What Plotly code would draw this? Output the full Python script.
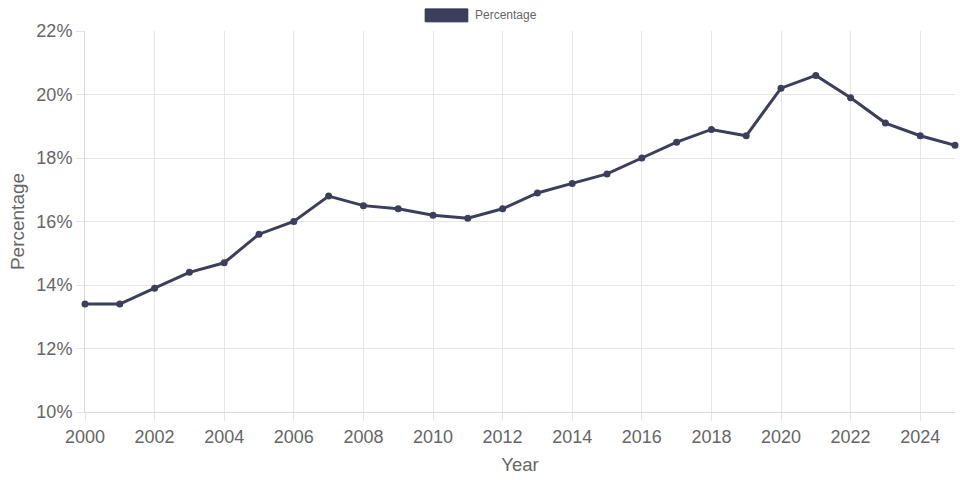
import plotly.graph_objects as go

years = list(range(2000, 2026))
percentage = [
    13.4, 13.4, 13.9, 14.4, 14.7, 15.6, 16.0, 16.8, 16.5, 16.4,
    16.2, 16.1, 16.4, 16.9, 17.2, 17.5, 18.0, 18.5, 18.9, 18.7,
    20.2, 20.6, 19.9, 19.1, 18.7, 18.4,
]
series_name = "Percentage"

LINE = "#3b3f5c"
GRID = "#e5e5e5"
TEXT = "#666666"
FONT = "Liberation Sans, Arial, sans-serif"

fig = go.Figure()
fig.add_trace(go.Scatter(
    x=years,
    y=percentage,
    mode="lines+markers",
    name=series_name,
    line=dict(color=LINE, width=3),
    marker=dict(size=7, color=LINE),
    cliponaxis=False,
    showlegend=False,
    hovertemplate="%{x}: %{y}%<extra></extra>",
))

# chart.js style legend box at the top
fig.add_shape(type="rect", xref="paper", yref="paper",
              x0=0.391, x1=0.440, y0=1.024, y1=1.058,
              fillcolor=LINE, line=dict(color="#2e3250", width=1))
fig.add_annotation(text=series_name, xref="paper", yref="paper",
                   x=0.446, y=1.041, xanchor="left", yanchor="middle",
                   showarrow=False, font=dict(size=12, color=TEXT, family=FONT))

fig.update_layout(
    width=960, height=480,
    paper_bgcolor="white", plot_bgcolor="white",
    margin=dict(l=85, r=5, t=31, b=68),
    font=dict(family=FONT, color=TEXT),
    xaxis=dict(
        title=dict(text="Year", font=dict(size=18.5), standoff=12),
        range=[2000, 2025], dtick=2, tick0=2000,
        showgrid=True, gridcolor=GRID,
        ticks="outside", ticklen=8, tickcolor=GRID,
        showline=True, linecolor="#d9d9d9", zeroline=False,
        layer="below traces",
        tickfont=dict(size=18),
    ),
    yaxis=dict(
        title=dict(text="Percentage", font=dict(size=19), standoff=6),
        range=[10, 22], dtick=2, ticksuffix="%",
        showgrid=True, gridcolor=GRID,
        ticks="outside", ticklen=8, tickcolor=GRID,
        showline=True, linecolor="#d9d9d9", zeroline=False,
        layer="below traces",
        tickfont=dict(size=18),
    ),
)

# drop the default body margin so the figure fills the window exactly
fig.write_html(
    "out.html",
    config={"displayModeBar": False},
    post_script="document.body.style.margin='0';",
)
